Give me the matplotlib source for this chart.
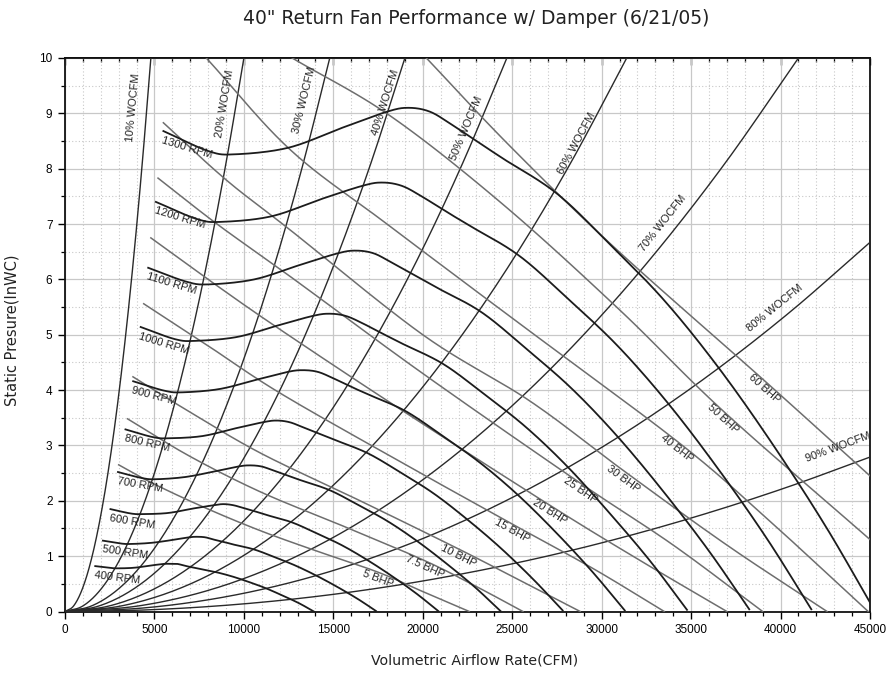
import numpy as np
import matplotlib
matplotlib.use("Agg")
import matplotlib.pyplot as plt
from matplotlib.ticker import MultipleLocator

plt.rcParams['font.family'] = ['Liberation Sans', 'DejaVu Sans']

# ---------------- data ----------------
rpm_names = ['400 RPM', '500 RPM', '600 RPM', '700 RPM', '800 RPM',
             '900 RPM', '1000 RPM', '1100 RPM', '1200 RPM', '1300 RPM']

rpm400_x = [1690, 2460, 2920, 3850, 4770, 5538, 5908, 6277, 6646, 7077, 7540, 8460, 9380, 10310, 11230, 12150, 13080, 13910]
rpm400_y = [0.82, 0.79, 0.78, 0.79, 0.83, 0.86, 0.86, 0.86, 0.83, 0.80, 0.77, 0.71, 0.63, 0.53, 0.42, 0.29, 0.15, 0.00]
rpm500_x = [2120, 3080, 3650, 4810, 5960, 6923, 7385, 7846, 8308, 8846, 9420, 10580, 11730, 12880, 14040, 15190, 16350, 17380]
rpm500_y = [1.28, 1.23, 1.22, 1.24, 1.29, 1.34, 1.35, 1.34, 1.30, 1.26, 1.21, 1.12, 0.98, 0.83, 0.65, 0.45, 0.23, 0.01]
rpm600_x = [2540, 3690, 4380, 5770, 7150, 8308, 8862, 9415, 9969, 10615, 11310, 12690, 14080, 15460, 16850, 18230, 19620, 20860]
rpm600_y = [1.85, 1.77, 1.76, 1.78, 1.86, 1.92, 1.94, 1.92, 1.87, 1.81, 1.74, 1.61, 1.41, 1.20, 0.94, 0.65, 0.33, 0.01]
rpm700_x = [2960, 4310, 5120, 6730, 8350, 9692, 10338, 10985, 11631, 12385, 13190, 14810, 16420, 18040, 19650, 21270, 22880, 24340]
rpm700_y = [2.52, 2.41, 2.39, 2.43, 2.53, 2.62, 2.64, 2.62, 2.55, 2.46, 2.37, 2.19, 1.92, 1.63, 1.28, 0.88, 0.45, 0.01]
rpm800_x = [3380, 4920, 5850, 7690, 9540, 11077, 11815, 12554, 13292, 14154, 15080, 16920, 18770, 20620, 22460, 24310, 26150, 27820]
rpm800_y = [3.29, 3.15, 3.13, 3.17, 3.31, 3.42, 3.45, 3.42, 3.33, 3.22, 3.10, 2.86, 2.51, 2.13, 1.67, 1.16, 0.59, 0.02]
rpm900_x = [3810, 5540, 6580, 8650, 10730, 12462, 13292, 14123, 14954, 15923, 16960, 19040, 21120, 23190, 25270, 27350, 29420, 31290]
rpm900_y = [4.16, 3.99, 3.96, 4.02, 4.19, 4.33, 4.36, 4.33, 4.22, 4.07, 3.92, 3.62, 3.17, 2.69, 2.12, 1.46, 0.74, 0.02]
rpm1000_x = [4230, 6150, 7310, 9620, 11920, 13846, 14769, 15692, 16615, 17692, 18850, 21150, 23460, 25770, 28080, 30380, 32690, 34770]
rpm1000_y = [5.14, 4.92, 4.89, 4.96, 5.17, 5.34, 5.38, 5.34, 5.21, 5.03, 4.84, 4.47, 3.92, 3.33, 2.62, 1.80, 0.92, 0.03]
rpm1100_x = [4650, 6770, 8040, 10580, 13120, 15231, 16246, 17262, 18277, 19462, 20730, 23270, 25810, 28350, 30890, 33420, 35960, 38250]
rpm1100_y = [6.21, 5.96, 5.91, 6.00, 6.26, 6.47, 6.52, 6.47, 6.30, 6.09, 5.86, 5.41, 4.74, 4.02, 3.16, 2.18, 1.11, 0.04]
rpm1200_x = [5080, 7380, 8770, 11540, 14310, 16615, 17723, 18831, 19938, 21231, 22620, 25380, 28150, 30920, 33690, 36460, 39230, 41720]
rpm1200_y = [7.40, 7.09, 7.04, 7.14, 7.45, 7.69, 7.75, 7.69, 7.50, 7.24, 6.97, 6.43, 5.64, 4.79, 3.77, 2.60, 1.32, 0.04]
rpm1300_x = [5500, 8000, 9500, 12500, 15500, 18000, 19200, 20400, 21600, 23000, 24500, 27500, 30500, 33500, 36500, 39500, 42500, 45200]
rpm1300_y = [8.68, 8.32, 8.26, 8.38, 8.74, 9.03, 9.10, 9.03, 8.80, 8.50, 8.18, 7.55, 6.62, 5.62, 4.42, 3.05, 1.55, 0.05]

wocfm_names = ['10% WOCFM', '20% WOCFM', '30% WOCFM', '40% WOCFM', '50% WOCFM',
               '60% WOCFM', '70% WOCFM', '80% WOCFM', '90% WOCFM']
w10_x = [0, 480, 960, 1440, 1920, 2400, 2880, 3360, 3840, 4320, 4800]
w20_x = [0, 1000, 2000, 3000, 4000, 5000, 6000, 7000, 8000, 9000, 10000]
w30_x = [0, 1480, 2960, 4440, 5920, 7400, 8880, 10360, 11840, 13320, 14800]
w40_x = [0, 1900, 3800, 5700, 7600, 9500, 11400, 13300, 15200, 17100, 19000]
w50_x = [0, 2470, 4940, 7410, 9880, 12350, 14820, 17290, 19760, 22230, 24700]
w60_x = [0, 3140, 6280, 9420, 12560, 15700, 18840, 21980, 25120, 28260, 31400]
w70_x = [0, 4100, 8200, 12300, 16400, 20500, 24600, 28700, 32800, 36900, 41000]
w_top_y = [0, 0.1, 0.4, 0.9, 1.6, 2.5, 3.6, 4.9, 6.4, 8.1, 10.0]
w80_x = [0, 4500, 9000, 13500, 18000, 22500, 27000, 31500, 36000, 40500, 45000]
w80_y = [0, 0.067, 0.267, 0.600, 1.067, 1.668, 2.401, 3.268, 4.269, 5.403, 6.67]
w90_x = [0, 4500, 9000, 13500, 18000, 22500, 27000, 31500, 36000, 40500, 45000]
w90_y = [0, 0.028, 0.112, 0.251, 0.446, 0.698, 1.004, 1.367, 1.786, 2.260, 2.79]

bhp_names = ['5 BHP', '7.5 BHP', '10 BHP', '15 BHP', '20 BHP',
             '25 BHP', '30 BHP', '40 BHP', '50 BHP', '60 BHP']
bhp5_x = [3000, 5000, 8000, 11000, 14000, 17500, 20000, 22600]
bhp5_y = [2.65, 2.30, 1.85, 1.45, 1.10, 0.71, 0.36, 0.0]
bhp7_x = [3500, 7000, 11000, 15500, 20100, 23000, 25600]
bhp7_y = [3.48, 2.80, 2.15, 1.55, 0.92, 0.45, 0.0]
bhp10_x = [3800, 7000, 11000, 16500, 22000, 25500, 28800]
bhp10_y = [4.24, 3.60, 2.85, 2.00, 1.13, 0.55, 0.0]
bhp15_x = [4400, 8000, 12000, 18500, 25000, 29500, 33500]
bhp15_y = [5.56, 4.80, 3.95, 2.75, 1.58, 0.78, 0.0]
bhp20_x = [4800, 8000, 12000, 19000, 27100, 32000, 37000]
bhp20_y = [6.75, 6.00, 5.10, 3.60, 1.92, 0.95, 0.0]
bhp25_x = [5200, 8500, 12600, 20000, 28800, 34000, 39000]
bhp25_y = [7.83, 7.00, 6.05, 4.30, 2.32, 1.20, 0.0]
bhp30_x = [5500, 9000, 12600, 20000, 26000, 31200, 37000, 42600]
bhp30_y = [8.83, 7.80, 6.89, 5.00, 3.80, 2.55, 1.20, 0.0]
bhp40_x = [7900, 12600, 18000, 25000, 34200, 39000, 44900]
bhp40_y = [10.0, 8.34, 7.00, 5.30, 3.08, 1.75, 0.0]
bhp50_x = [12700, 18200, 24500, 31000, 36800, 45000]
bhp50_y = [10.0, 8.95, 7.35, 5.45, 3.62, 1.30]
bhp60_x = [20200, 24900, 30800, 39100, 45000]
bhp60_y = [10.0, 8.40, 6.55, 4.17, 2.45]

# label placement (styles/positions)
rpm_rot = [-7, -8.5, -9.5, -10, -13, -15, -17, -17, -17, -17]
w_lab_xy = [(3800, 9.10), (8940, 9.18), (13400, 9.24), (17900, 9.20), (22450, 8.73),
            (28600, 8.46), (33440, 7.01), (39700, 5.48), (43200, 2.97)]
b_lab_xy = [(17500, 0.59), (20100, 0.80), (22000, 1.01), (25000, 1.46), (27100, 1.80),
            (28800, 2.19), (31200, 2.40), (34200, 2.94), (36800, 3.48), (39100, 4.03)]


def catmull(xs, ys, n=24):
    p = np.column_stack([xs, ys]).astype(float)
    p = np.vstack([2 * p[0] - p[1], p, 2 * p[-1] - p[-2]])
    t = np.linspace(0, 1, n, endpoint=False)[:, None]
    out = []
    for i in range(1, len(p) - 2):
        p0, p1, p2, p3 = p[i - 1], p[i], p[i + 1], p[i + 2]
        seg = 0.5 * ((2 * p1) + (-p0 + p2) * t + (2 * p0 - 5 * p1 + 4 * p2 - p3) * t ** 2
                     + (-p0 + 3 * p1 - 3 * p2 + p3) * t ** 3)
        out.append(seg)
    out.append(p[-2][None, :])
    a = np.vstack(out)
    return a[:, 0], a[:, 1]


fig = plt.figure(figsize=(8.91, 6.75), dpi=100)
ax = fig.add_axes([65 / 891, 1 - 611.5 / 675, 805 / 891, 553.5 / 675])
ax.set_xlim(0, 45000)
ax.set_ylim(0, 10)

BLACK = '#1c1c1c'
GRAY = '#6e6e6e'
LABEL_FS = 8


def angle_at(xs, ys, x0):
    sx, sy = catmull(xs, ys)
    order = np.argsort(sx)
    sx, sy = sx[order], sy[order]
    dx = 300
    ya = np.interp(x0 - dx, sx, sy)
    yb = np.interp(x0 + dx, sx, sy)
    pa = ax.transData.transform((x0 - dx, ya))
    pb = ax.transData.transform((x0 + dx, yb))
    return np.degrees(np.arctan2(pb[1] - pa[1], pb[0] - pa[0]))


# grid
ax.xaxis.set_major_locator(MultipleLocator(5000))
ax.xaxis.set_minor_locator(MultipleLocator(1000))
ax.yaxis.set_major_locator(MultipleLocator(1))
ax.yaxis.set_minor_locator(MultipleLocator(0.5))
ax.grid(which='major', color='#c8c8c8', lw=0.9, ls='-', zorder=0)
ax.grid(which='minor', color='#c8c8c8', lw=0.8, ls=(0, (1, 2)), zorder=0)
ax.set_axisbelow(True)

# WOCFM system curves
w_series = [(w10_x, w_top_y), (w20_x, w_top_y), (w30_x, w_top_y), (w40_x, w_top_y),
            (w50_x, w_top_y), (w60_x, w_top_y), (w70_x, w_top_y), (w80_x, w80_y), (w90_x, w90_y)]
for (xs, ys), name, (lx, ly) in zip(w_series, wocfm_names, w_lab_xy):
    sx, sy = catmull(xs, ys)
    ax.plot(sx, sy, color='#2a2a2a', lw=1.0, zorder=3, clip_on=True)
    t = np.interp(ly, sy, sx) if name not in ('80% WOCFM', '90% WOCFM') else lx
    ang = angle_at(xs, ys, t)
    ax.text(lx, ly, name, fontsize=LABEL_FS, rotation=ang, rotation_mode='anchor',
            ha='center', va='center', color='#222222', zorder=6)

# BHP curves
b_series = [(bhp5_x, bhp5_y), (bhp7_x, bhp7_y), (bhp10_x, bhp10_y), (bhp15_x, bhp15_y),
            (bhp20_x, bhp20_y), (bhp25_x, bhp25_y), (bhp30_x, bhp30_y), (bhp40_x, bhp40_y),
            (bhp50_x, bhp50_y), (bhp60_x, bhp60_y)]
for (xs, ys), name, (lx, ly) in zip(b_series, bhp_names, b_lab_xy):
    sx, sy = catmull(xs, ys)
    ax.plot(sx, sy, color=GRAY, lw=1.1, zorder=4)
    ang = angle_at(xs, ys, lx)
    ax.text(lx, ly, name, fontsize=LABEL_FS, rotation=ang, rotation_mode='anchor',
            ha='center', va='center', color='#222222', zorder=6)

# RPM fan curves
r_series = [(rpm400_x, rpm400_y), (rpm500_x, rpm500_y), (rpm600_x, rpm600_y),
            (rpm700_x, rpm700_y), (rpm800_x, rpm800_y), (rpm900_x, rpm900_y),
            (rpm1000_x, rpm1000_y), (rpm1100_x, rpm1100_y), (rpm1200_x, rpm1200_y),
            (rpm1300_x, rpm1300_y)]
for (xs, ys), name, rot in zip(r_series, rpm_names, rpm_rot):
    sx, sy = catmull(xs, ys)
    ax.plot(sx, sy, color=BLACK, lw=1.3, zorder=5)
    ax.text(xs[0], ys[0] - 0.07, name, fontsize=LABEL_FS, rotation=rot,
            rotation_mode='anchor', ha='left', va='top', color='#222222', zorder=6)

# spines and ticks
for s in ax.spines.values():
    s.set_linewidth(1.3)
    s.set_color('#111111')
ax.tick_params(axis='x', which='both', direction='out', top=False, labelsize=8.5, pad=4)
ax.tick_params(axis='y', which='both', direction='out', right=False, labelsize=8.5, pad=4)
ax.tick_params(which='major', length=5, width=1.0)
ax.tick_params(which='minor', length=3, width=0.9)
ax.set_xticks(np.arange(0, 45001, 5000))
ax.set_xticklabels([str(v) for v in range(0, 45001, 5000)])
ax.set_yticks(np.arange(0, 11, 1))
ax.set_yticklabels([str(v) for v in range(0, 11)])

sec = ax.secondary_xaxis('top')
sec.xaxis.set_major_locator(MultipleLocator(5000))
sec.xaxis.set_minor_locator(MultipleLocator(1000))
sec.tick_params(which='both', direction='in', labeltop=False)
sec.tick_params(which='major', length=5, width=1.0)
sec.tick_params(which='minor', length=3, width=0.9)
sec.spines['top'].set_linewidth(1.3)

fig.text(0.535, 0.972, '40" Return Fan Performance w/ Damper (6/21/05)',
         ha='center', va='center', fontsize=13.5, color='#222222', family='DejaVu Sans')
fig.text(0.533, 0.022, 'Volumetric Airflow Rate(CFM)', ha='center', va='center',
         fontsize=10.2, color='#222222', family='DejaVu Sans')
fig.text(0.0135, 0.511, 'Static Presure(InWC)', ha='center', va='center',
         rotation=90, fontsize=10.5, color='#222222', family='DejaVu Sans')

fig.savefig('out.png', dpi=100)
